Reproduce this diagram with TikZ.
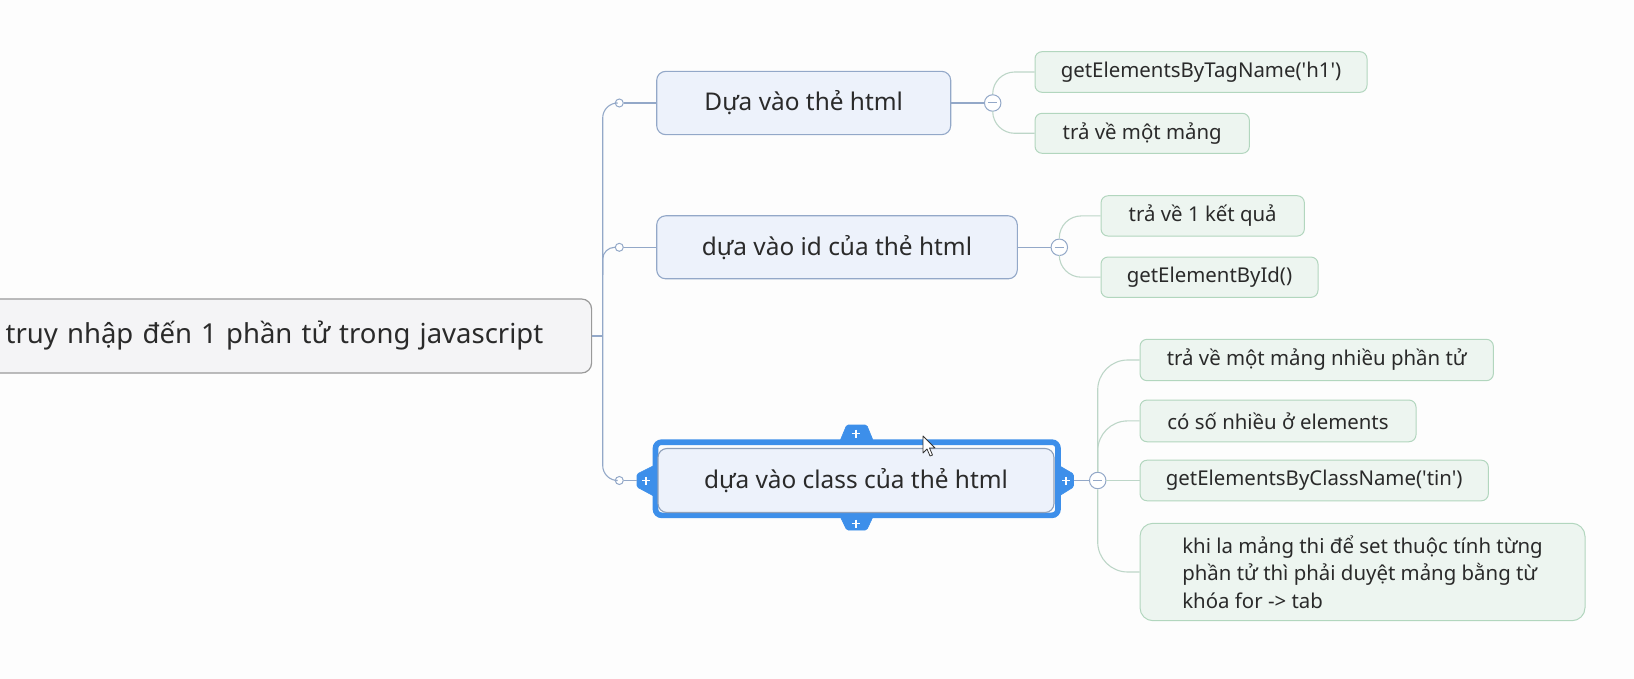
\documentclass[tikz,border=0pt]{standalone}
\usepackage{fontspec}
\setmainfont{Noto Sans}
\newfontfamily\ns{Noto Sans}
\definecolor{txt}{HTML}{2A2A2A}
\definecolor{rootfill}{HTML}{F4F4F6}
\definecolor{rootdraw}{HTML}{9A9A9A}
\definecolor{brfill}{HTML}{EDF2FB}
\definecolor{brdraw}{HTML}{93A8C8}
\definecolor{chfill}{HTML}{EDF5F0}
\definecolor{chdraw}{HTML}{B2D6BE}
\definecolor{chline}{HTML}{BDD6C8}
\definecolor{selblue}{HTML}{3D8FEA}
\definecolor{bg}{HTML}{FDFDFD}
\tikzset{
  rootbox/.style={draw=rootdraw, fill=rootfill, line width=1.2pt, rounded corners=10pt, text=txt,
    font=\ns\fontsize{27.5}{32}\selectfont, inner sep=0pt},
  brbox/.style={draw=brdraw, fill=brfill, line width=1.1pt, rounded corners=9pt, text=txt,
    font=\ns\fontsize{24.4}{28}\selectfont, inner sep=0pt},
  chbox/.style={draw=chdraw, fill=chfill, line width=1pt, rounded corners=7pt, text=txt,
    font=\ns\fontsize{20.4}{27.5}\selectfont, inner sep=0pt},
  mainline/.style={draw=brdraw, line width=1.1pt},
  childline/.style={draw=chline, line width=1.1pt},
  dot/.style={circle, draw=brdraw, fill=white, line width=1pt, minimum size=8pt, inner sep=0pt},
  minusbtn/.style={circle, draw=brdraw, fill=white, line width=1pt, minimum size=16.5pt, inner sep=0pt,
    path picture={\draw[brdraw, line width=1pt] ([xshift=-4.5pt]path picture bounding box.center) -- ([xshift=4.5pt]path picture bounding box.center);}},
  tab/.style={fill=selblue, draw=selblue, line width=0.6pt, rounded corners=1.5pt},
  plus/.style={draw=white, line width=1.9pt}
}
\begin{document}
\begin{tikzpicture}[x=1pt,y=-1pt]
\fill[bg] (0,0) rectangle (1634,679);
\useasboundingbox (0,0) rectangle (1634,679);

% root
\node[rootbox, anchor=west, minimum width=611pt, minimum height=74pt, text width=575pt, inner xsep=18pt, align=left] (root) at (-20,336) {\hspace*{7pt}truy nhập đến 1 phần tử trong javascript};

% trunk coordinates
\coordinate (tr) at (602.7,336);
\coordinate (tb) at (602.7,480.5);
\coordinate (t2) at (602.7,275);

% dots
\node[dot] (c1) at (619.3,103) {};
\node[dot] (c2) at (619.3,247.3) {};
\node[dot] (c3) at (619.3,480.5) {};

% branches
\node[brbox, minimum width=294pt, minimum height=63.3pt] (b1) at (803.7,103) {Dựa vào thẻ html};
\node[brbox, minimum width=360.6pt, minimum height=63pt] (b2) at (837,247.3) {dựa vào id của thẻ html};

% selected branch
\draw[selblue, line width=5.6pt, rounded corners=6pt] (655.5,442.2) rectangle (1058,515.3);
\draw[tab] (840,441) -- (846.7,425) -- (866.7,425) -- (873.3,441) -- cycle;
\draw[tab] (840,516) -- (846.7,530) -- (866.7,530) -- (873.3,516) -- cycle;
\draw[tab] (655,465) -- (637,474) -- (637,487) -- (655,496.7) -- cycle;
\draw[tab] (1058,465) -- (1073.5,474) -- (1073.5,487) -- (1058,496.7) -- cycle;
\coordinate (selW) at (637,480.5);
\coordinate (selE) at (1073.5,480.5);
\draw[plus] (851.7,433.5) -- (859.7,433.5) (855.7,429.5) -- (855.7,437.5);
\draw[plus] (851.7,523.5) -- (859.7,523.5) (855.7,519.5) -- (855.7,527.5);
\draw[plus] (642,480.5) -- (650,480.5) (646,476.5) -- (646,484.5);
\draw[plus] (1062,480.5) -- (1070,480.5) (1066,476.5) -- (1066,484.5);
\node[brbox, draw=brdraw!80!gray, minimum width=396pt, minimum height=64pt] (b3) at (856,480.5) {dựa vào class của thẻ html};

% minus buttons
\node[minusbtn] (m1) at (992.7,103) {};
\node[minusbtn] (m2) at (1059.3,247.3) {};
\node[minusbtn] (m3) at (1097.7,480.5) {};

% children
\node[chbox, minimum width=332pt, minimum height=40.6pt] (k1) at (1201,72) {getElementsByTagName('h1')};
\node[chbox, minimum width=214.3pt, minimum height=40pt] (k2) at (1142.2,133.3) {trả về một mảng};
\node[chbox, minimum width=203.3pt, minimum height=40.3pt] (k3) at (1202.7,215.9) {trả về 1 kết quả};
\node[chbox, minimum width=217pt, minimum height=40.3pt] (k4) at (1209.5,277.2) {getElementById()};
\node[chbox, minimum width=353.3pt, minimum height=41.4pt] (k5) at (1316.7,360) {trả về một mảng nhiều phần tử};
\node[chbox, minimum width=276pt, minimum height=41.7pt] (k6) at (1278,420.9) {có số nhiều ở elements};
\node[chbox, minimum width=348.3pt, minimum height=40.6pt] (k7) at (1314.2,480.5) {getElementsByClassName('tin')};
\node[chbox, rounded corners=13pt, minimum width=445pt, minimum height=97.4pt, align=left] (k8) at (1362.5,572) {khi la mảng thi để set thuộc tính từng\\phần tử thì phải duyệt mảng bằng từ\\khóa for -> tab};

% main connectors
\draw[mainline] (root.east) -- (tr);
\draw[mainline, rounded corners=15pt] (c1.west) -| (tb) -- (c3.west);
\draw[mainline, rounded corners=12pt] (t2) |- (c2.west);
\draw[mainline] (c1.east) -- (b1.west);
\draw[mainline] (c2.east) -- (b2.west);
\draw[mainline] (c3.east) -- (selW);
\draw[mainline] (b1.east) -- (m1.west);
\draw[mainline] (b2.east) -- (m2.west);
\draw[mainline] (selE) -- (m3.west);

% child connectors
\draw[childline, rounded corners=22pt] (m1.north) |- (k1.west);
\draw[childline, rounded corners=22pt] (m1.south) |- (k2.west);
\draw[childline, rounded corners=22pt] (m2.north) |- (k3.west);
\draw[childline, rounded corners=22pt] (m2.south) |- (k4.west);
\draw[childline, rounded corners=30pt] (m3.north) |- (k5.west);
\draw[childline, rounded corners=30pt] (m3.north) |- (k6.west);
\draw[childline] (m3.east) -- (k7.west);
\draw[childline, rounded corners=30pt] (m3.south) |- (k8.west);

% mouse cursor
\draw[fill=white, draw=black!80, line width=0.8pt, line join=round]
  (923,436) -- (923,453) -- (927,449) -- (930,456) -- (932.5,455) -- (929.5,448) -- (935,448) -- cycle;
\end{tikzpicture}
\end{document}
